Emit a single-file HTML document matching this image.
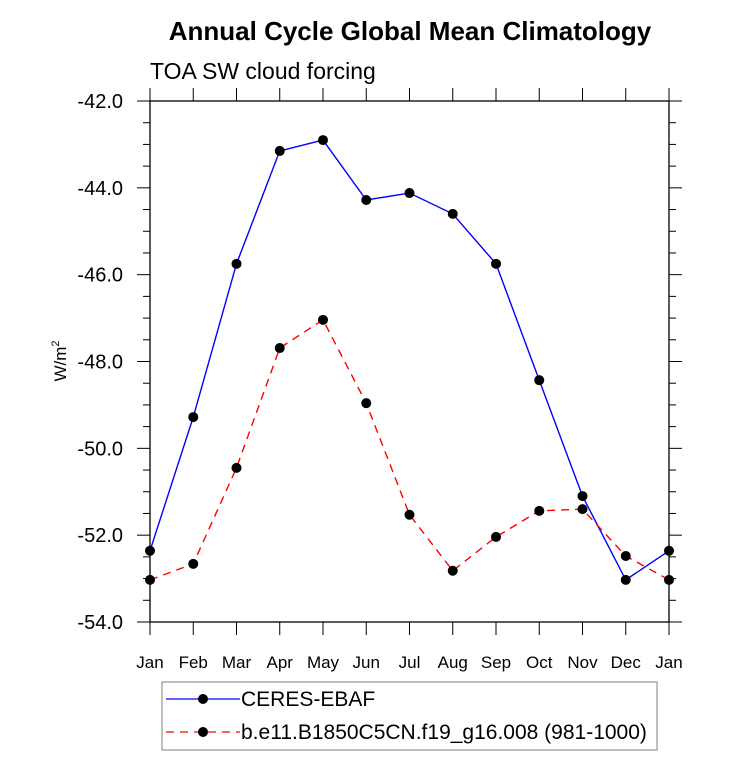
<!DOCTYPE html>
<html><head><meta charset="utf-8"><style>
body{margin:0;background:#fff;}
svg text{font-family:"Liberation Sans",Arial,sans-serif;}
</style></head><body>
<svg width="733" height="772" xmlns="http://www.w3.org/2000/svg">
<text x="410" y="40" text-anchor="middle" font-size="26" font-weight="bold">Annual Cycle Global Mean Climatology</text>
<text x="150" y="79" font-size="23">TOA SW cloud forcing</text>
<text transform="translate(66,361) rotate(-90)" text-anchor="middle" font-size="17">W/m<tspan font-size="11" dy="-7">2</tspan></text>
<g id="axes"></g>
<g id="series"></g>
<g>
<rect x="162" y="682" width="495" height="68" fill="#fff" stroke="#aaa" stroke-width="1.5"/>
<g>
<line x1="166" y1="699" x2="240" y2="699" stroke="#0000ff" stroke-width="1.3"/>
<circle cx="203" cy="699" r="5" fill="#000"/>
<text x="241" y="706" font-size="21">CERES-EBAF</text></g>
<g>
<line x1="166" y1="732" x2="240" y2="732" stroke="#ff0000" stroke-width="1.3" stroke-dasharray="8,6"/>
<circle cx="203" cy="732" r="5" fill="#000"/>
<text x="241" y="739" font-size="21">b.e11.B1850C5CN.f19_g16.008 (981-1000)</text></g>
</g>
</svg>
<script>
const months=["Jan","Feb","Mar","Apr","May","Jun","Jul","Aug","Sep","Oct","Nov","Dec","Jan"];
const ceres=[-52.36,-49.28,-45.75,-43.15,-42.9,-44.28,-44.12,-44.6,-45.75,-48.43,-51.1,-53.03,-52.36];
const model=[-53.03,-52.66,-50.45,-47.69,-47.04,-48.96,-51.53,-52.82,-52.04,-51.44,-51.4,-52.48,-53.03];
const yTicks=[-42,-44,-46,-48,-50,-52,-54];
const NS="http://www.w3.org/2000/svg";
const L=150,R=669,T=101,B=622,yMax=-42,yMin=-54;
const xs=i=>L+(R-L)*i/12;
const ys=v=>T+(yMax-v)/(yMax-yMin)*(B-T);
function mk(tag,attrs,parent){const e=document.createElementNS(NS,tag);for(const k in attrs)e.setAttribute(k,attrs[k]);parent.appendChild(e);return e;}
const ax=document.getElementById('axes');
const frame=mk('rect',{x:L,y:T,width:R-L,height:B-T,fill:'none',stroke:'#000','stroke-width':1.3},ax);


for(let v=yMax;v>=yMin-0.001;v-=0.5){
  const y=ys(v);const major=Math.abs(v/2-Math.round(v/2))<1e-6;const len=major?13:7;
  const t1=mk('line',{x1:L-len,y1:y,x2:L,y2:y,stroke:'#000','stroke-width':1},ax);
  
  
  const t2=mk('line',{x1:R,y1:y,x2:R+len,y2:y,stroke:'#000','stroke-width':1},ax);
  
  
}
yTicks.forEach(v=>{
  const t=mk('text',{x:L-27,y:ys(v)+7,'text-anchor':'end','font-size':20},ax);t.textContent=v.toFixed(1);
  
  
});
months.forEach((m,i)=>{
  const x=xs(i);
  const a=mk('line',{x1:x,y1:B,x2:x,y2:B+13,stroke:'#000','stroke-width':1},ax);
  
  
  const b=mk('line',{x1:x,y1:T-13,x2:x,y2:T,stroke:'#000','stroke-width':1},ax);
  
  
  const t=mk('text',{x:x,y:B+46,'text-anchor':'middle','font-size':17},ax);t.textContent=m;
  
  
});
const sg=document.getElementById('series');
function series(vals,color,dash,name){
  const p=mk('polyline',{points:vals.map((v,i)=>xs(i)+','+ys(v)).join(' '),fill:'none',stroke:color,'stroke-width':1.4,'stroke-dasharray':dash},sg);
  
  
  vals.forEach((v,i)=>{const c=mk('circle',{cx:xs(i),cy:ys(v),r:5,fill:'#000'},sg);
    
    });
}
series(ceres,'#0000ff','none','ceres');
series(model,'#ff0000','8,6','model');
</script>
</body></html>
